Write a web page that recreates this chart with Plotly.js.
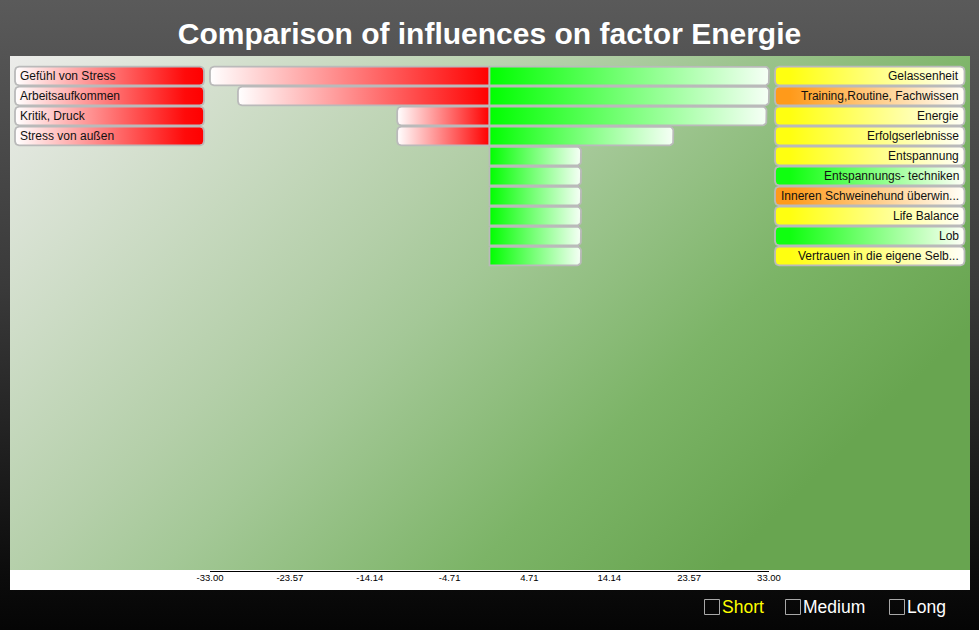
<!DOCTYPE html>
<html>
<head>
<meta charset="utf-8">
<script src="https://cdn.plot.ly/plotly-3.0.1.min.js"></script>
<style>
html,body{margin:0;padding:0;}
#chart{width:979px;height:630px;background:linear-gradient(to bottom,#5a5a5a 0%,#3a3a3a 45%,#0b0b0b 92%,#050505 100%);}
</style>
</head>
<body>
<div id="chart"></div>
<script>
// ---- data ----
const negLabels = ["Gefühl von Stress", "Arbeitsaufkommen", "Kritik, Druck", "Stress von außen"];
const negValues = [-33, -29.7, -10.9, -10.9];
const posLabels = ["Gelassenheit", "Training,Routine, Fachwissen", "Energie", "Erfolgserlebnisse",
  "Entspannung", "Entspannungs- techniken", "Inneren Schweinehund überwin...", "Life Balance",
  "Lob", "Vertrauen in die eigene Selb..."];
const posValues = [33, 33, 32.7, 21.7, 10.8, 10.8, 10.8, 10.8, 10.8, 10.8];
const tickValues = [-33.00, -23.57, -14.14, -4.71, 4.71, 14.14, 23.57, 33.00];
const tickLabels = tickValues.map(v => v.toFixed(2));
const legendItems = ["Short", "Medium", "Long"];

// ---- styles ----
const posColors = ["#ffff10", "#ff9a1a", "#ffff10", "#ffff10", "#ffff10", "#10ff10", "#ff9a1a", "#ffff10", "#10ff10", "#ffff10"];
const legendColors = ["#ffff00", "#ffffff", "#ffffff"];

// geometry (pixels -> data units)
const PX_X = 8.47;      // px per x unit
const PX_Y = 20;        // px per row
const CX = 489.5;       // pixel of x=0
const toX = px => (px - CX) / PX_X;
const HH = 0.465;       // half row height
const R = 4;            // corner radius px

function roundRect(x0, x1, yc, hh, rl, rr) {
  const xs = [], ys = [];
  const yT = yc - hh, yB = yc + hh;
  function corner(cx, cy, r, a0, a1) {
    const rx = r / PX_X, ry = r / PX_Y;
    if (r === 0) { xs.push(cx); ys.push(cy); return; }
    const n = 5;
    for (let i = 0; i <= n; i++) {
      const a = a0 + (a1 - a0) * i / n;
      xs.push(cx + rx * Math.cos(a));
      ys.push(cy + ry * Math.sin(a));
    }
  }
  const P = Math.PI;
  corner(rl ? x0 + rl / PX_X : x0, rl ? yT + rl / PX_Y : yT, rl, P, 1.5 * P);
  corner(rr ? x1 - rr / PX_X : x1, rr ? yT + rr / PX_Y : yT, rr, 1.5 * P, 2 * P);
  corner(rr ? x1 - rr / PX_X : x1, rr ? yB - rr / PX_Y : yB, rr, 0, 0.5 * P);
  corner(rl ? x0 + rl / PX_X : x0, rl ? yB - rl / PX_Y : yB, rl, 0.5 * P, P);
  xs.push(xs[0]); ys.push(ys[0]);
  return {x: xs, y: ys};
}

const border = {color: "#bababa", width: 1.8};
const traces = [];
const annotations = [];

function addShape(p, colorscale) {
  traces.push({
    type: "scatter", mode: "lines", x: p.x, y: p.y, fill: "toself",
    line: border, fillcolor: "#fff",
    fillgradient: {type: "horizontal", colorscale: colorscale},
    hoverinfo: "skip", showlegend: false
  });
}

const labFont = {family: "Liberation Sans, Arial, sans-serif", size: 12, color: "#111"};

// negative side
negLabels.forEach((lab, i) => {
  addShape(roundRect(toX(15), toX(204), i, HH, R, R), [[0, "#ffffff"], [0.9, "#ff0a0a"], [1, "#ff0000"]]);
  annotations.push({x: toX(18), y: i, xref: "x", yref: "y", text: lab, showarrow: false,
    xanchor: "left", yanchor: "middle", font: labFont});
  addShape(roundRect(negValues[i], 0, i, HH, R, 0), [[0, "#ffffff"], [1, "#ff0000"]]);
});

// positive side
posLabels.forEach((lab, i) => {
  addShape(roundRect(0, posValues[i], i, HH, 0, R), [[0, "#00ff00"], [1, "#f6fff6"]]);
  addShape(roundRect(toX(775), toX(964.5), i, HH, R, R), [[0, posColors[i]], [0.08, posColors[i]], [1, "#fffff8"]]);
  annotations.push({x: toX(961), y: i, xref: "x", yref: "y", text: lab, showarrow: false,
    xanchor: "right", yanchor: "middle", font: labFont});
});

// legend-like checkboxes at bottom
const PL = 10, PW = 960, PB = 570, PH = 514;
const px2paperX = px => (px - PL) / PW;
const px2paperY = py => (PB - py) / PH;
const boxX = [704.5, 785.5, 889.5];
const shapes = [];
shapes.push({type: "rect", xref: "paper", yref: "paper", x0: 0, x1: 1, y0: px2paperY(590), y1: 0,
  fillcolor: "#ffffff", line: {width: 0}, layer: "below"});
shapes.push({type: "line", xref: "x", yref: "paper", x0: tickValues[0], x1: tickValues[tickValues.length - 1],
  y0: px2paperY(571.5), y1: px2paperY(571.5), line: {color: "#000", width: 1}});
legendItems.forEach((t, i) => {
  shapes.push({type: "rect", xref: "paper", yref: "paper",
    x0: px2paperX(boxX[i]), x1: px2paperX(boxX[i] + 15), y0: px2paperY(599.5), y1: px2paperY(614.5),
    line: {color: "#a8a8a8", width: 1}, fillcolor: "rgba(0,0,0,0)"});
  annotations.push({xref: "paper", yref: "paper", x: px2paperX(boxX[i] + 15.5), y: px2paperY(607),
    text: t, showarrow: false, xanchor: "left", yanchor: "middle",
    font: {family: "Liberation Sans, Arial, sans-serif", size: 17.5, color: legendColors[i]}});
});

// background gradient image for plot area
const cv = document.createElement("canvas");
cv.width = 960; cv.height = 514;
const ctx = cv.getContext("2d");
const g = ctx.createLinearGradient(0, 0, 600, 620);
g.addColorStop(0, "#ececea");
g.addColorStop(0.44, "#b4cfa9");
g.addColorStop(0.55, "#a4c897");
g.addColorStop(0.8, "#7cb467");
g.addColorStop(1, "#68a550");
ctx.fillStyle = g;
ctx.fillRect(0, 0, 960, 514);
const bgURL = cv.toDataURL("image/png");

const layout = {
  width: 979, height: 630,
  margin: {l: 10, r: 9, t: 56, b: 60, pad: 0},
  paper_bgcolor: "rgba(0,0,0,0)",
  plot_bgcolor: "rgba(0,0,0,0)",
  title: {text: "<b>Comparison of influences on factor Energie</b>", x: 0.5, xref: "container", xanchor: "center",
    y: 1 - 33 / 630, yref: "container", yanchor: "middle",
    font: {family: "Liberation Sans, Arial, sans-serif", size: 30, color: "#ffffff"}},
  xaxis: {range: [toX(10), toX(970)], showgrid: false, zeroline: false, showline: false,
    tickmode: "array", tickvals: tickValues, ticktext: tickLabels, ticks: "",
    tickfont: {family: "Liberation Sans, Arial, sans-serif", size: 9.5, color: "#000"}, fixedrange: true},
  yaxis: {range: [(570 - 76) / PX_Y, (56 - 76) / PX_Y], visible: false, showgrid: false, zeroline: false, fixedrange: true},
  images: [{source: bgURL, xref: "paper", yref: "paper", x: 0, y: 1, sizex: 1, sizey: 1,
    sizing: "stretch", xanchor: "left", yanchor: "top", layer: "below"}],
  shapes: shapes,
  annotations: annotations,
  showlegend: false,
  hovermode: false
};

Plotly.newPlot("chart", traces, layout, {displayModeBar: false, staticPlot: true});
</script>
</body>
</html>
